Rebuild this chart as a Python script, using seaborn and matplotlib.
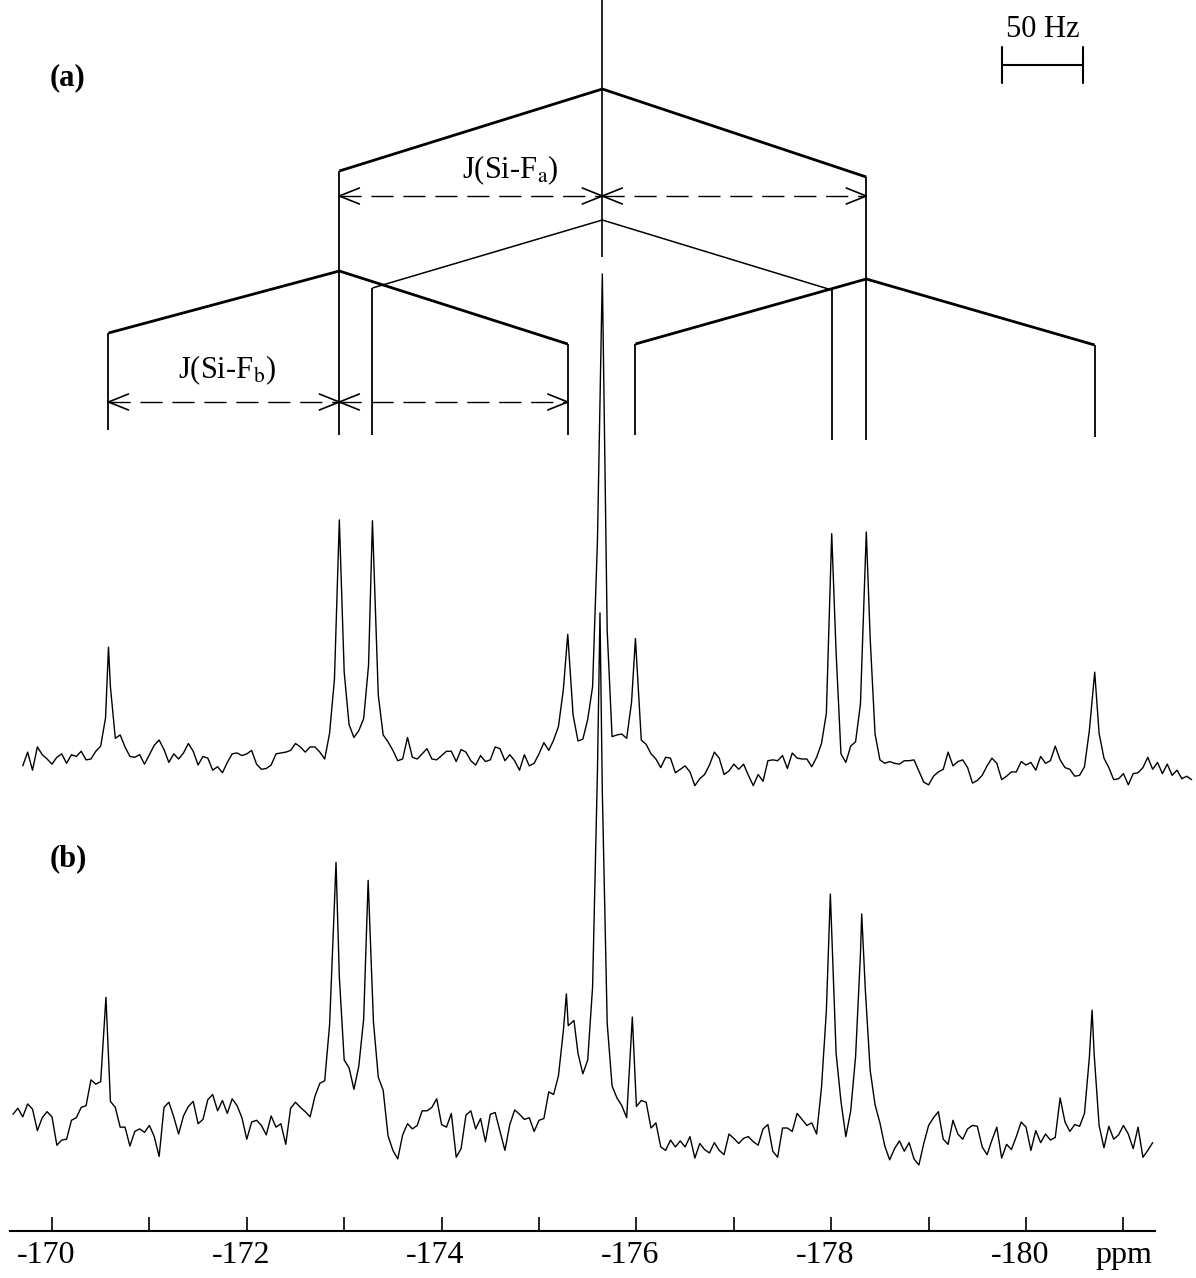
import numpy as np
import pandas as pd
import matplotlib
matplotlib.use("Agg")
import matplotlib.pyplot as plt
import matplotlib.transforms as mtransforms
import seaborn as sns

# ------------------------------------------------------------------
# 29Si NMR spectra.  Each trace = baseline samples on a regular
# 0.05 ppm grid + the individual line maxima (intensity, arb. units)
# ------------------------------------------------------------------
GRID_START = -169.60   # ppm of grid index 0
GRID_STEP = -0.05      # ppm per grid index

# spectrum (a)
spec_a_first_index = 2
spec_a_grid = [
    -8, 8, -13, 14, 5, 0, -6, 2, 6, -5,
    5, 3, 9, -1, 0, 9, 15, 48, 84, 24,
    28, 14, 3, 2, 5, -6, 5, 16, 22, 11,
    -4, 6, 0, 7, 18, 9, -7, 3, 1, -13,
    -9, -16, -4, 6, 7, 4, 6, 10, -6, -12,
    -11, -7, 6, 7, 8, 10, 18, 14, 8, 14,
    14, 8, 0, 30, 93, 270, 101, 40, 25, 33,
    47, 109, 260, 74, 28, 20, 10, -2, 0, 25,
    2, 0, 6, 12, 0, -1, 4, 9, 9, -3,
    11, 8, -2, -7, 4, -3, -1, 14, 12, -2,
    5, -2, -13, 5, -8, -5, 6, 19, 10, 22,
    38, 81, 140, 51, 21, 23, 46, 84, 254, 555,
    149, 26, 28, 29, 24, 66, 130, 22, 17, 6,
    0, -10, 2, 1, -16, -12, -8, -15, -31, -23,
    -18, -7, 8, 1, -18, -14, -6, -12, -6, -19,
    -31, -18, -26, -2, -1, -2, 4, -11, 7, 1,
    0, 0, -9, 2, 18, 53, 255, 124, 6, -4,
    15, 20, 64, 255, 140, 29, -1, -5, -3, -5,
    -6, -2, -2, -1, -14, -27, -30, -20, -15, -12,
    8, -8, -3, -1, -10, -28, -25, -19, -8, 1,
    -5, -24, -20, -15, -15, -3, -7, -4, -13, 3,
    -5, -2, 15, -1, -10, -12, -20, -19, -9, 33,
    95, 30, 1, -10, -24, -23, -17, -30, -17, -16,
    -10, 2, -12, -4, -17, -6, -19, -13, -23, -20,
    -24,
]
spec_a_line_ppm = [-170.58, -172.95, -173.29, -175.295, -175.65,
                   -175.99, -178.005, -178.36, -180.705]
spec_a_line_int = [130, 278, 277, 145, 564, 140, 262, 264, 101]

# spectrum (b)
spec_b_first_index = 0
spec_b_grid = [
    9, 16, 6, 21, 15, -10, 5, 12, 6, -27,
    -21, -20, 2, 5, 17, 19, 49, 44, 47, 132,
    24, 17, -6, -6, -28, -11, -8, -12, -4, -17,
    -40, 17, 23, 6, -14, 7, 18, 24, -2, 3,
    26, 32, 13, 25, 10, 27, 19, 5, -20, 0,
    2, -4, -15, 7, -6, -2, -26, 16, 23, 17,
    12, 6, 30, 45, 48, 113, 255, 169, 72, 63,
    38, 65, 120, 268, 117, 52, 37, -16, -33, -43,
    -15, -2, -8, -4, 13, 13, 17, 27, -3, -6,
    10, -41, -31, 8, 13, -8, 4, -23, 9, 11,
    -11, -33, -3, 14, 9, 3, 5, -11, 2, 4,
    35, 32, 54, 106, 112, 107, 80, 56, 72, 157,
    408, 384, 115, 42, 28, 19, 5, 105, 18, 25,
    23, -7, -1, -29, -33, -21, -29, -22, -29, -17,
    -42, -25, -32, -36, -24, -33, -38, -14, -19, -25,
    -19, -17, -23, -27, -8, -3, -34, -41, -7, -7,
    -11, 10, 3, -4, -1, -14, 40, 129, 231, 80,
    24, -17, 13, 76, 195, 154, 60, 20, -1, -28,
    -44, -31, -22, -34, -24, -43, -50, -25, -4, 5,
    12, -20, -26, 2, -14, -20, -8, -4, -5, -29,
    -38, -21, -6, -42, -26, -32, -17, 0, -6, -33,
    -10, -24, -14, -21, -18, 28, 0, -11, -3, -5,
    10, 75, 78, -4, -30, -5, -20, -15, -4, -14,
    -31, -6, -41, -33, -24,
]
spec_b_line_ppm = [-170.554, -172.916, -173.246, -175.281, -175.359,
                   -175.626, -175.958, -177.991, -178.313, -180.678]
spec_b_line_int = [145, 302, 281, 149, 118, 592, 122, 265, 242, 130]

# chemical-shift axis
major_ticks = [-170, -172, -174, -176, -178, -180, -181]
major_tick_labels = ["-170", "-172", "-174", "-176", "-178", "-180", "ppm"]
minor_ticks = [-171, -173, -175, -177, -179]

panel_labels = ["(a)", "(b)"]
coupling_labels = [r"J(Si-F$_{\mathrm{a}}$)", r"J(Si-F$_{\mathrm{b}}$)"]
scale_bar_hz = 50
spectrometer_mhz = 59.6


def build_trace(first_index, grid_values, line_ppm, line_int):
    """Merge grid samples with line maxima into one sorted trace."""
    idx = first_index + np.arange(len(grid_values))
    ppm = GRID_START + GRID_STEP * idx
    vals = np.asarray(grid_values, dtype=float)
    lp = np.asarray(line_ppm, dtype=float)
    keep = np.array([np.min(np.abs(lp - p)) > 0.012 for p in ppm])
    df = pd.DataFrame({
        "ppm": np.concatenate([ppm[keep], lp]),
        "intensity": np.concatenate([vals[keep], np.asarray(line_int, float)]),
    })
    return df.sort_values("ppm").reset_index(drop=True)


# ------------------------------------------------------------------
# figure set-up
# ------------------------------------------------------------------
sns.set_theme(style="white")
plt.rcParams["font.family"] = ["Liberation Serif", "DejaVu Serif"]
plt.rcParams["mathtext.fontset"] = "stix"

W, H, DPI = 1196, 1278, 100
PX_PER_PPM = 97.4
fig = plt.figure(figsize=(W / DPI, H / DPI), dpi=DPI, facecolor="white")
AX_BOTTOM = 47
ax = fig.add_axes([10 / W, AX_BOTTOM / H, 1145 / W, (H - AX_BOTTOM) / H])
ax.patch.set_alpha(0)


def top(v):
    """Vertical position given as distance below the upper edge."""
    return H - v


INT_SCALE = 0.86
BASE_A = top(759)
BASE_B = top(1122)

trace_a = build_trace(spec_a_first_index, spec_a_grid, spec_a_line_ppm, spec_a_line_int)
trace_a["y"] = BASE_A + INT_SCALE * trace_a["intensity"]
trace_b = build_trace(spec_b_first_index, spec_b_grid, spec_b_line_ppm, spec_b_line_int)
trace_b["y"] = BASE_B + INT_SCALE * trace_b["intensity"]

for tr in (trace_a, trace_b):
    sns.lineplot(data=tr, x="ppm", y="y", ax=ax, color="black", linewidth=1.0,
                 sort=True, estimator=None, clip_on=False)

ax.set_xlim(-169.569, -181.324)
ax.set_ylim(AX_BOTTOM, H)
ax.set_xlabel("")
ax.set_ylabel("")

# ------------------------------------------------------------------
# splitting diagram above spectrum (a)
# ------------------------------------------------------------------
lx = spec_a_line_ppm


def seg(xs, levels, lw):
    ax.plot(xs, [top(v) for v in levels], color="black", lw=lw,
            solid_joinstyle="miter", solid_capstyle="butt", clip_on=False)


# central line
seg([lx[4], lx[4]], [0, 257], 1.2)
# Fa doublet
seg([lx[1], lx[4], lx[7]], [171, 89, 177], 2.0)
# inner Fb doublet of the centre
seg([lx[2], lx[4], lx[6]], [288, 220, 290], 1.1)
# Fb doublets of the Fa components
seg([lx[0], lx[1], lx[3]], [333, 271, 344], 2.0)
seg([lx[5], lx[7], lx[8]], [344, 279, 345], 2.0)

legs = {0: (333, 430), 1: (171, 435), 2: (288, 435), 3: (344, 435),
        5: (344, 435), 6: (290, 440), 7: (177, 440), 8: (345, 437)}
for i, (y0, y1) in legs.items():
    seg([lx[i], lx[i]], [y0, y1], 1.3)

HEAD_LEN_PX = 20
HEAD_HALF_PX = 8


def dim_arrow(x0, x1, level):
    y = top(level)
    ax.plot([x0, x1], [y, y], color="black", lw=1.0, dashes=(16, 7),
            clip_on=False)
    for tip, other in ((x0, x1), (x1, x0)):
        d = np.sign(other - tip) * HEAD_LEN_PX / PX_PER_PPM
        ax.plot([tip + d, tip, tip + d],
                [y + HEAD_HALF_PX, y, y - HEAD_HALF_PX],
                color="black", lw=1.2, clip_on=False)


dim_arrow(lx[1], lx[4], 196)
dim_arrow(lx[4], lx[7], 196)
dim_arrow(lx[0], lx[1], 402)
dim_arrow(lx[1], lx[3], 402)

ax.text(-174.71, top(178), coupling_labels[0], ha="center", va="baseline",
        fontsize=22, color="black")
ax.text(-171.80, top(378), coupling_labels[1], ha="center", va="baseline",
        fontsize=22, color="black")

# 50 Hz scale bar
bar_left = -179.75
bar_right = bar_left - scale_bar_hz / spectrometer_mhz
ax.plot([bar_left, bar_right], [top(65), top(65)], color="black", lw=1.5)
for xb in (bar_left, bar_right):
    ax.plot([xb, xb], [top(47), top(83)], color="black", lw=1.5)
ax.text((bar_left + bar_right) / 2, top(37), f"{scale_bar_hz} Hz",
        ha="center", va="baseline", fontsize=22, color="black")

# panel labels
ax.text(-169.98, top(85), panel_labels[0], ha="left", va="baseline",
        fontsize=22, fontweight="bold", color="black")
ax.text(-169.98, top(866), panel_labels[1], ha="left", va="baseline",
        fontsize=22, fontweight="bold", color="black")

# ------------------------------------------------------------------
# axis styling
# ------------------------------------------------------------------
ax.set_xticks(major_ticks)
ax.set_xticklabels(major_tick_labels)
ax.set_xticks(minor_ticks, minor=True)
ax.tick_params(axis="x", which="both", direction="in", length=10, width=1.2,
               colors="black", labelsize=23, pad=7, bottom=True)
ax.set_yticks([])
for side in ("left", "top", "right"):
    ax.spines[side].set_visible(False)
ax.spines["bottom"].set_linewidth(1.5)
ax.spines["bottom"].set_color("black")

# numeric labels sit slightly left of their ticks
shift = mtransforms.ScaledTranslation(-6 / DPI, 0, fig.dpi_scale_trans)
for lab in ax.get_xticklabels():
    if lab.get_text() != "ppm":
        lab.set_transform(lab.get_transform() + shift)

fig.savefig("out.png", dpi=DPI, facecolor="white")
